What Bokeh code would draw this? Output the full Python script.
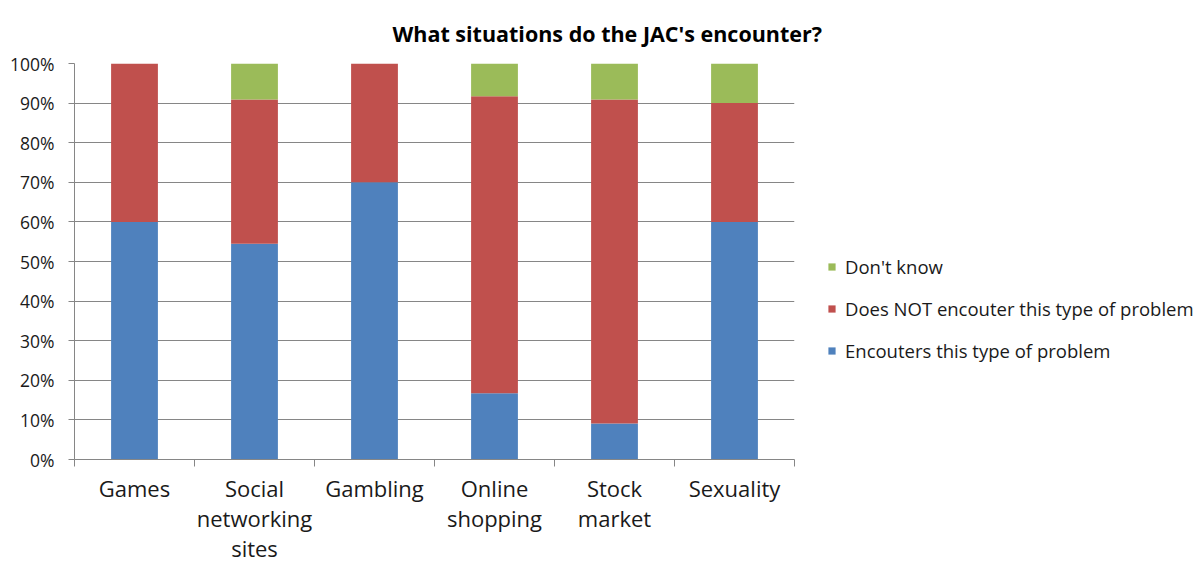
from bokeh.plotting import figure
from bokeh.models import Range1d, FixedTicker, Legend, LegendItem, ColumnDataSource, Title
from bokeh.embed import file_html
from bokeh.resources import INLINE

categories = ["Games", "Social\nnetworking\nsites", "Gambling", "Online\nshopping", "Stock\nmarket", "Sexuality"]
encounters = [60.0, 54.5, 70.0, 16.7, 9.1, 60.0]
does_not = [40.0, 36.4, 30.0, 75.0, 81.8, 30.0]
dont_know = [0.0, 9.1, 0.0, 8.3, 9.1, 10.0]
series_keys = ["encounters", "does_not", "dont_know"]
series_labels = ["Encouters this type of problem", "Does NOT encouter this type of problem", "Don't know"]
series_colors = ["#4F81BD", "#C0504D", "#9BBB59"]
y_ticks = [0, 10, 20, 30, 40, 50, 60, 70, 80, 90, 100]
title_text = "What situations do the JAC's encounter?"

FONT = "Open Sans"
GRAY = "#868686"
TXT = "#1a1a1a"

xpos = [i + 0.5 for i in range(len(categories))]
source = ColumnDataSource(dict(x=xpos, encounters=encounters, does_not=does_not, dont_know=dont_know))

p = figure(frame_width=720, frame_height=396, output_backend="svg", toolbar_location=None,
           x_range=Range1d(0, len(categories)), y_range=Range1d(0, 100),
           min_border_left=74, min_border_right=410, min_border_top=63, min_border_bottom=106)
p.outline_line_color = None
p.background_fill_color = "white"
p.border_fill_color = "white"

renderers = p.vbar_stack(series_keys, x="x", width=0.39, source=source,
                         color=series_colors, line_color=None)

# y axis
p.yaxis.ticker = FixedTicker(ticks=y_ticks, minor_ticks=[])
p.yaxis.major_label_overrides = {t: f"{t}%" for t in y_ticks}
p.yaxis.major_label_text_font = FONT
p.yaxis.major_label_text_font_size = "17.5px"
p.yaxis.major_label_text_color = TXT
p.yaxis.axis_line_color = GRAY
p.yaxis.major_tick_line_color = GRAY
p.yaxis.major_tick_in = 0
p.yaxis.major_tick_out = 6
p.yaxis.major_label_standoff = 14

# x axis
p.xaxis.ticker = FixedTicker(ticks=xpos, minor_ticks=list(range(len(categories) + 1)))
p.xaxis.major_label_overrides = {x: c for x, c in zip(xpos, categories)}
p.xaxis.major_label_text_font = FONT
p.xaxis.major_label_text_font_size = "22px"
p.xaxis.major_label_text_line_height = 1.0
p.xaxis.major_label_text_color = TXT
p.xaxis.axis_line_color = GRAY
p.xaxis.major_tick_line_color = None
p.xaxis.major_tick_in = 0
p.xaxis.major_tick_out = 6
p.xaxis.minor_tick_line_color = GRAY
p.xaxis.minor_tick_in = 0
p.xaxis.minor_tick_out = 7
p.xaxis.major_label_standoff = 6

p.xgrid.grid_line_color = None
p.ygrid.ticker = FixedTicker(ticks=y_ticks)
p.ygrid.grid_line_color = GRAY
p.ygrid.grid_line_width = 1

legend = Legend(items=[LegendItem(label=series_labels[2], renderers=[renderers[2]]),
                       LegendItem(label=series_labels[1], renderers=[renderers[1]]),
                       LegendItem(label=series_labels[0], renderers=[renderers[0]])],
                location=(33, 96), border_line_color=None, background_fill_alpha=0,
                padding=0, margin=0, spacing=17, glyph_width=9, glyph_height=9,
                label_height=20, label_standoff=9,
                label_text_font=FONT, label_text_font_size="18.5px", label_text_color=TXT)
p.add_layout(legend, "right")

p.title = Title(text=title_text, align="left", offset=318, text_font=FONT,
                text_font_size="21.5px", text_font_style="bold", text_color="black",
                vertical_align="top", standoff=28)

open("out.html", "w").write(file_html(p, INLINE))
